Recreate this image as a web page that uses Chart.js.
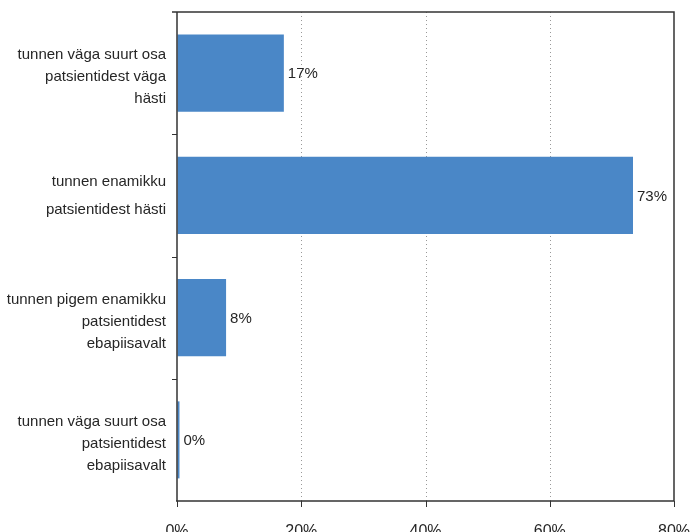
<!DOCTYPE html>
<html>
<head>
<meta charset="utf-8">
<script src="https://cdn.jsdelivr.net/npm/chart.js@4"></script>
<style>
    html, body { margin: 0; padding: 0; background: #fff; overflow: hidden; }
    #wrap { width: 690px; height: 550px; }
</style>
</head>
<body>
<div id="wrap"><canvas id="chart" width="690" height="550"></canvas></div>
<script>
// Answers, top to bottom
const categories = [
    ['tunnen väga suurt osa', 'patsientidest väga', 'hästi'],
    ['tunnen enamikku', 'patsientidest hästi'],
    ['tunnen pigem enamikku', 'patsientidest', 'ebapiisavalt'],
    ['tunnen väga suurt osa', 'patsientidest', 'ebapiisavalt']
];
const shares = [17.2, 73.4, 7.9, 0.4];
const xTicks = [0, 20, 40, 60, 80];

const FONT = '"Liberation Sans", Arial, sans-serif';
const TEXT = '#262626';
const BAR = '#4a87c7';

// frame, dotted grid and tick marks
const framePlugin = {
    id: 'frame',
    beforeDatasetsDraw(chart) {
        const { ctx, chartArea: a, scales: { x } } = chart;
        ctx.save();
        ctx.strokeStyle = '#999';
        ctx.lineWidth = 1;
        ctx.setLineDash([1, 3]);
        xTicks.slice(1, -1).forEach(v => {
            const px = Math.round(x.getPixelForValue(v)) + 0.5;
            ctx.beginPath();
            ctx.moveTo(px, a.top);
            ctx.lineTo(px, a.bottom);
            ctx.stroke();
        });
        ctx.restore();
    },
    afterDatasetsDraw(chart) {
        const { ctx, chartArea: a, scales: { x, y } } = chart;
        ctx.save();
        ctx.strokeStyle = '#333';
        ctx.lineWidth = 1.5;
        ctx.beginPath();
        ctx.moveTo(a.left - 5, a.top);
        ctx.lineTo(a.right, a.top);
        ctx.lineTo(a.right, a.bottom);
        ctx.lineTo(a.left - 1, a.bottom);
        ctx.moveTo(a.left, a.top);
        ctx.lineTo(a.left, a.bottom);
        ctx.stroke();
        ctx.lineWidth = 1;
        ctx.beginPath();
        for (let i = 0; i < categories.length - 1; i++) {
            const py = Math.round(y.getPixelForValue(i + 0.5)) + 0.5;
            ctx.moveTo(a.left - 5, py);
            ctx.lineTo(a.left, py);
        }
        xTicks.forEach(v => {
            const px = Math.round(x.getPixelForValue(v)) + 0.5;
            ctx.moveTo(px, a.bottom);
            ctx.lineTo(px, a.bottom + 6);
        });
        ctx.stroke();
        ctx.restore();
    }
};

// category names, right-aligned against the axis
const categoryLabels = {
    id: 'categoryLabels',
    afterDraw(chart) {
        const { ctx, chartArea: a, scales: { y } } = chart;
        ctx.save();
        ctx.fillStyle = TEXT;
        ctx.font = '15px ' + FONT;
        ctx.textAlign = 'right';
        ctx.textBaseline = 'middle';
        categories.forEach((lines, i) => {
            const c = y.getPixelForValue(i);
            const step = lines.length === 2 ? 28 : 22;
            const shift = lines.length === 2 ? 0 : 4;
            const top = c + shift - (lines.length - 1) * step / 2;
            lines.forEach((t, k) => ctx.fillText(t, a.left - 11, top + k * step));
        });
        ctx.restore();
    }
};

// percentage next to each bar
const valueLabels = {
    id: 'valueLabels',
    afterDatasetsDraw(chart) {
        const { ctx } = chart;
        const meta = chart.getDatasetMeta(0);
        ctx.save();
        ctx.fillStyle = TEXT;
        ctx.font = '15px ' + FONT;
        ctx.textAlign = 'left';
        ctx.textBaseline = 'middle';
        meta.data.forEach((bar, i) => {
            ctx.fillText(Math.round(shares[i]) + '%', bar.x + 4, bar.y + 1);
        });
        ctx.restore();
    }
};

new Chart(document.getElementById('chart'), {
    type: 'bar',
    data: {
        labels: categories,
        datasets: [{
            data: shares,
            backgroundColor: BAR,
            borderWidth: 0,
            barPercentage: 0.63,
            categoryPercentage: 1
        }]
    },
    options: {
        indexAxis: 'y',
        responsive: false,
        animation: false,
        layout: { padding: { top: 12, right: 16, left: 0, bottom: 0 } },
        plugins: {
            legend: { display: false },
            tooltip: { enabled: false }
        },
        scales: {
            x: {
                min: 0,
                max: 80,
                afterFit(scale) {
                    scale.height = 49;
                    scale.paddingLeft = 0;
                    scale.paddingRight = 0;
                },
                afterBuildTicks(scale) { scale.ticks = xTicks.map(v => ({ value: v })); },
                grid: { display: true, drawOnChartArea: false, drawTicks: false, color: 'rgba(0,0,0,0)' },
                border: { display: false },
                ticks: {
                    padding: 21,
                    color: TEXT,
                    font: { family: FONT, size: 16 },
                    maxRotation: 0,
                    callback: v => v + '%'
                }
            },
            y: {
                afterFit(scale) {
                    scale.width = 177;
                    scale.paddingTop = 0;
                    scale.paddingBottom = 0;
                },
                grid: { display: false },
                border: { display: false },
                ticks: { display: false }
            }
        }
    },
    plugins: [framePlugin, categoryLabels, valueLabels]
});
</script>
</body>
</html>
